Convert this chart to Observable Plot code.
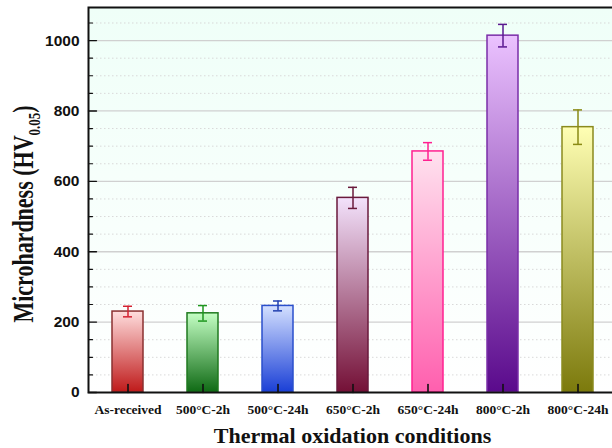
<!DOCTYPE html>
<html><head><meta charset="utf-8">
<script src="https://cdn.jsdelivr.net/npm/d3@7"></script>
<script src="https://cdn.jsdelivr.net/npm/@observablehq/plot@0.6"></script>
<style>html,body{margin:0;padding:0;overflow:hidden;background:#fff}</style>
</head><body><div id="chart"></div>
<script>
const categories = ["As-received","500°C-2h","500°C-24h","650°C-2h","650°C-24h","800°C-2h","800°C-24h"];
const hardness = [230, 225, 246, 553, 685, 1014, 754];
const errors = [15, 22, 14, 30, 25, 32, 49];
const gradTop = ["#ffdede","#c4ffc4","#d4e0ff","#f3e2fc","#ffe2ef","#ebc2ff","#ffffb4"];
const gradBottom = ["#bf1a1a","#0f6a14","#1a3fd6","#741036","#ff5fae","#5a0a8c","#7c7a0c"];
const barStroke = ["#8a3030","#1f7a1f","#2a4fcc","#6a1a3c","#ff2090","#7a2ea8","#8a8a1e"];
const errStroke = ["#d42030","#1e961e","#2240b0","#6a1a3c","#ff2090","#5a1890","#8a8a14"];
const yMajorTicks = [0, 200, 400, 600, 800, 1000];
const yMinorTicks = [50, 100, 150, 250, 300, 350, 450, 500, 550, 650, 700, 750, 850, 900, 950, 1050];
const yDomain = [0, 1094];
const xTitle = "Thermal oxidation conditions";
const yTitleMain = "Microhardness (HV";
const yTitleSub = "0.05";
const yTitleEnd = ")";

const data = categories.map((c, i) => ({
  cat: c, v: hardness[i], e: errors[i],
  fill: `url(#barGrad${i})`, stroke: barStroke[i], err: errStroke[i]
}));

const lineShape = {draw(ctx, l) { ctx.moveTo(0, 0); ctx.lineTo(0, -l); }};

const chart = Plot.plot({
  width: 612, height: 448,
  marginLeft: 88, marginRight: -4, marginTop: 7, marginBottom: 56,
  style: {fontFamily: "Liberation Sans", background: "#fff", overflow: "hidden"},
  x: {domain: categories, paddingInner: 0.59, paddingOuter: 0.295, axis: null},
  y: {domain: yDomain, axis: null},
  color: {type: "identity"},
  marks: [
    Plot.frame({fill: "url(#bgGrad)"}),
    Plot.ruleY(yMinorTicks, {stroke: "#d9d9d9", strokeWidth: 1, strokeDasharray: "1.5,2.5"}),
    Plot.ruleY(yMajorTicks.filter(d => d > 0), {stroke: "#d0d0d0", strokeWidth: 1.3}),
    Plot.barY(data, {x: "cat", y: "v", fill: "fill", stroke: "stroke", strokeWidth: 1.5}),
    Plot.ruleX(data, {x: "cat", y1: d => d.v - d.e, y2: d => d.v + d.e, stroke: "err", strokeWidth: 1.5}),
    Plot.tickY(data, {x: "cat", y: d => d.v + d.e, stroke: "err", strokeWidth: 1.5, insetLeft: 11, insetRight: 11}),
    Plot.tickY(data, {x: "cat", y: d => d.v - d.e, stroke: "err", strokeWidth: 1.5, insetLeft: 11, insetRight: 11}),
    Plot.vector(categories, {x: d => d, frameAnchor: "bottom", rotate: 0, length: 8, anchor: "start", shape: lineShape, stroke: "#111", strokeWidth: 1.6}),
    Plot.vector(yMajorTicks, {y: d => d, frameAnchor: "left", rotate: 90, length: 8, anchor: "start", shape: lineShape, stroke: "#111", strokeWidth: 1.4}),
    Plot.vector(yMinorTicks, {y: d => d, frameAnchor: "left", rotate: 90, length: 4, anchor: "start", shape: lineShape, stroke: "#111", strokeWidth: 1.2}),
    Plot.frame({stroke: "#111", strokeWidth: 2}),
    Plot.axisY({ticks: yMajorTicks, tickFormat: d => String(d), tickSize: 0, tickPadding: 9, label: null, fontSize: 15.5, fontWeight: "bold", fontFamily: "Liberation Sans", fill: "#111"}),
    Plot.axisX({tickSize: 0, tickPadding: 12, label: null, fontSize: 13.5, fontWeight: "bold", fontFamily: "Liberation Serif", fill: "#111"}),
    Plot.text([xTitle], {text: d => d, frameAnchor: "bottom", dy: 50, fontSize: 22, fontWeight: "bold", fontFamily: "Liberation Serif", fill: "#111"})
  ]
});

const svg = d3.select(chart);
const defs = svg.insert("defs", ":first-child");
const bg = defs.append("linearGradient").attr("id", "bgGrad").attr("x1", 0).attr("y1", 0).attr("x2", 0).attr("y2", 1);
bg.append("stop").attr("offset", "0%").attr("stop-color", "#effff8");
bg.append("stop").attr("offset", "100%").attr("stop-color", "#ffffff");
categories.forEach((c, i) => {
  const g = defs.append("linearGradient").attr("id", `barGrad${i}`).attr("x1", 0).attr("y1", 0).attr("x2", 0).attr("y2", 1);
  g.append("stop").attr("offset", "0%").attr("stop-color", gradTop[i]);
  g.append("stop").attr("offset", "100%").attr("stop-color", gradBottom[i]);
});

const yt = svg.append("text")
  .attr("transform", "translate(33,214) rotate(-90) scale(1,1.35)")
  .attr("text-anchor", "middle")
  .attr("font-family", "Liberation Serif")
  .attr("font-weight", "bold")
  .attr("font-size", 22)
  .attr("fill", "#111");
yt.append("tspan").text(yTitleMain);
yt.append("tspan").attr("font-size", 13).attr("dy", 5).text(yTitleSub);
yt.append("tspan").attr("dy", -5).text(yTitleEnd);

document.getElementById("chart").appendChild(chart);
</script>
</body></html>
